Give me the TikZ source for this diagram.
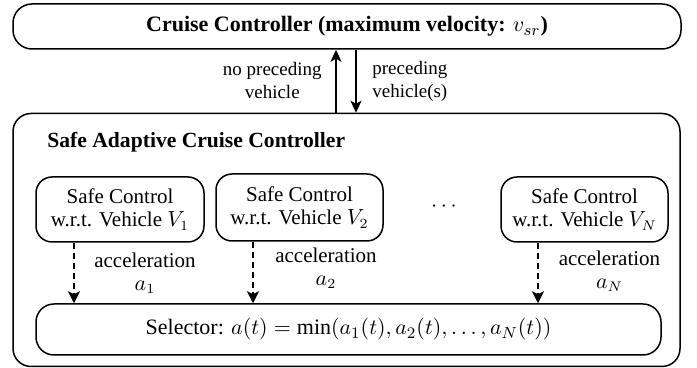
\documentclass[tikz,border=0pt]{standalone}
\usepackage{fontspec}
\setmainfont{Liberation Serif}
\usetikzlibrary{arrows.meta}
\begin{document}
\begin{tikzpicture}[x=0.5pt,y=-0.5pt,
  box/.style={draw,line width=0.75pt,rounded corners=8pt,inner sep=0pt,align=center},
  txt/.style={font=\fontsize{10.5}{11.5}\selectfont,align=center,inner sep=0pt},
  small/.style={font=\fontsize{9.5}{11.5}\selectfont,align=center,inner sep=0pt},
  solidarrow/.style={line width=0.75pt,-{Stealth[length=6pt,width=5.5pt,inset=1.5pt]}},
  dasharrow/.style={line width=0.6pt,densely dashed,-{Stealth[length=6pt,width=6pt,inset=1.5pt]}}]
\useasboundingbox (0,0) rectangle (697,368);
% top box
\node[box,minimum width=334pt,minimum height=22.5pt,rounded corners=9.5pt,font=\fontsize{11}{13}\selectfont\bfseries] (cc) at (347,26.5) {Cruise Controller (maximum velocity: $v_{sr}$)};
% outer box
\node[box,minimum width=333.5pt,minimum height=126.5pt,rounded corners=9pt] (sacc) at (346.5,240) {};
\node[txt,anchor=west,font=\fontsize{10.8}{12.5}\selectfont\bfseries] (title) at (47,142) {Safe Adaptive Cruise Controller};
% arrows between
\coordinate (up) at (336,0);
\coordinate (dn) at (356,0);
\draw[solidarrow] (sacc.north -| up) -- (cc.south -| up);
\draw[solidarrow] (cc.south -| dn) -- (sacc.north -| dn);
\node[small,anchor=east] (np) at (322,81) {no preceding\\vehicle};
\node[small,anchor=west] (pv) at (372,81) {preceding\\vehicle(s)};
% inner boxes
\node[box,txt,minimum width=84pt,minimum height=32.5pt] (v1) at (120,209.5) {Safe Control\\w.r.t. Vehicle $V_1$};
\node[box,txt,minimum width=83.5pt,minimum height=33.5pt] (v2) at (299.5,207.5) {Safe Control\\w.r.t. Vehicle $V_2$};
\node[box,txt,minimum width=83.5pt,minimum height=32.5pt] (vn) at (584.5,209.5) {Safe Control\\w.r.t. Vehicle $V_N$};
\node[txt] (dots) at (444,207) {$\cdots$};
% selector
\node[box,txt,minimum width=312.5pt,minimum height=25.5pt,rounded corners=9pt,font=\fontsize{11}{13}\selectfont] (sel) at (348.5,329.5) {Selector: $a(t)=\min(a_1(t),a_2(t),\ldots,a_N(t))$};
% dashed arrows
\coordinate (d1) at (74,0);
\coordinate (d2) at (253,0);
\coordinate (dN) at (538,0);
\draw[dasharrow] (v1.south -| d1) -- (sel.north -| d1);
\draw[dasharrow] (v2.south -| d2) -- (sel.north -| d2);
\draw[dasharrow] (vn.south -| dN) -- (sel.north -| dN);
\node[txt] (l1) at (145,273) {acceleration\\$a_1$};
\node[txt] (l2) at (326,268) {acceleration\\$a_2$};
\node[txt] (lN) at (609.5,271) {acceleration\\$a_N$};
\end{tikzpicture}
\end{document}
